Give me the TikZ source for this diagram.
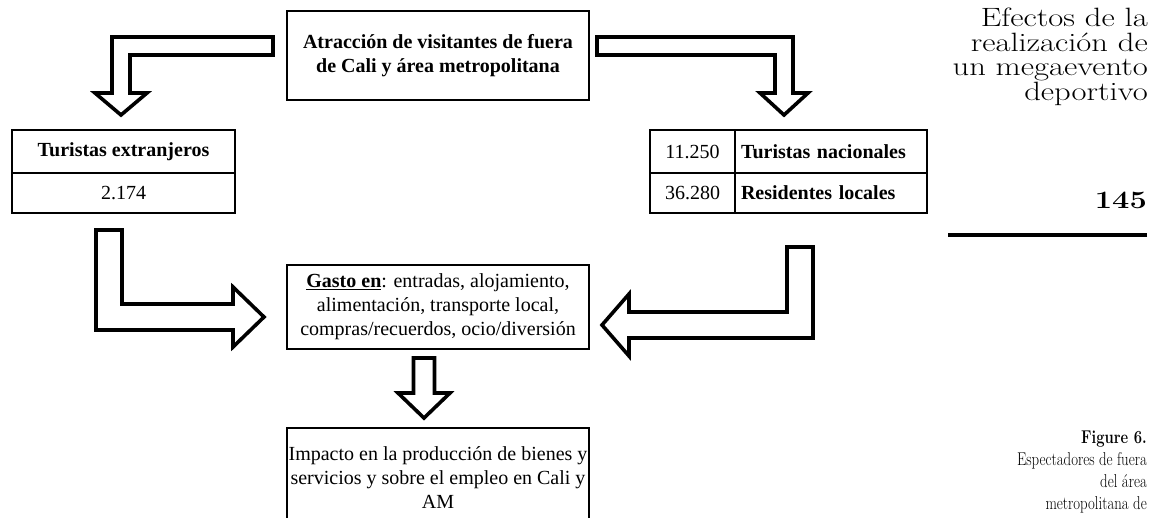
\documentclass[tikz,border=0pt]{standalone}
\usepackage{fontspec}
\newfontfamily\boxfont{Liberation Serif}
\newfontfamily\sidefont[FakeStretch=1.23]{Latin Modern Roman}
\newfontfamily\capfont[FakeStretch=0.8]{Latin Modern Roman}
\usetikzlibrary{positioning,calc}

\tikzset{
  box/.style={draw, line width=2.8pt, outer sep=0pt, inner sep=2pt, align=center,
    font=\boxfont\fontsize{20}{24}\selectfont},
  boldbox/.style={box, font=\boxfont\bfseries\fontsize{20}{24}\selectfont},
  blockarrow/.style={draw, line width=3.6pt, fill=white, line join=miter},
}

% horizontal shaft, then down to the tip: start, tip, half shaft, half head, head length
\newcommand{\hdarrow}[5]{%
  \draw[blockarrow] let \p1=(#1), \p2=(#2), \n1={sign(\x1-\x2)} in
    (\x1,{\y1+#3}) -- ({\x2-\n1*#3},{\y1+#3}) -- ({\x2-\n1*#3},{\y2+#5})
    -- ({\x2-\n1*#4},{\y2+#5}) -- (\x2,\y2) -- ({\x2+\n1*#4},{\y2+#5})
    -- ({\x2+\n1*#3},{\y2+#5}) -- ({\x2+\n1*#3},{\y1-#3}) -- (\x1,{\y1-#3}) -- cycle;
}
% down first, then horizontal to the tip
\newcommand{\vharrow}[5]{%
  \draw[blockarrow] let \p1=(#1), \p2=(#2), \n1={sign(\x2-\x1)} in
    ({\x1-\n1*#3},\y1) -- ({\x1-\n1*#3},{\y2-#3}) -- ({\x2-\n1*#5},{\y2-#3})
    -- ({\x2-\n1*#5},{\y2-#4}) -- (\x2,\y2) -- ({\x2-\n1*#5},{\y2+#4})
    -- ({\x2-\n1*#5},{\y2+#3}) -- ({\x1+\n1*#3},{\y2+#3}) -- ({\x1+\n1*#3},\y1) -- cycle;
}
% straight down
\newcommand{\dnarrow}[5]{%
  \draw[blockarrow] let \p1=(#1), \p2=(#2) in
    ({\x1-#3},\y1) -- ({\x1-#3},{\y2+#5}) -- ({\x1-#4},{\y2+#5}) -- (\x2,\y2)
    -- ({\x1+#4},{\y2+#5}) -- ({\x1+#3},{\y2+#5}) -- ({\x1+#3},\y1) -- cycle;
}

\begin{document}
\begin{tikzpicture}[x=1pt, y=-1pt]
  \useasboundingbox (0,0) rectangle (1155,518);

  % Boxes
  \node[boldbox, minimum width=302pt, minimum height=89pt] (atr) at (438,55.5)
    {Atracción de visitantes de fuera\\de Cali y área metropolitana};

  \node[boldbox, minimum width=223pt, minimum height=43pt] (ext) at (123.5,151.5)
    {Turistas extranjeros};
  \node[box, minimum width=223pt, minimum height=40pt, below=0pt of ext] (extnum) {2.174};

  \node[box, minimum width=85pt, minimum height=43pt] (nacnum) at (692.5,151.5) {11.250};
  \node[boldbox, minimum width=192pt, minimum height=43pt, text width=180pt, align=left,
    right=0pt of nacnum] (naclab) {Turistas nacionales};
  \node[box, minimum width=85pt, minimum height=40pt, below=0pt of nacnum] (resnum) {36.280};
  \node[boldbox, minimum width=192pt, minimum height=40pt, text width=180pt, align=left,
    below=0pt of naclab] (reslab) {Residentes locales};

  \node[box, minimum width=302pt, minimum height=84pt] (gasto) at (438,307)
    {\underline{\textbf{Gasto en}}: entradas, alojamiento,\\alimentación, transporte local,\\compras/recuerdos, ocio/diversión};

  \node[box, inner xsep=0pt, minimum width=302pt, minimum height=100pt] (imp) at (438,478)
    {Impacto en la producción de bienes y\\servicios y sobre el empleo en Cali y\\AM};

  % Block arrows
  \hdarrow{$(atr.west)+(-14,-9.5)$}{$(ext.north)+(-2.5,-15)$}{9pt}{26pt}{22pt}
  \hdarrow{$(atr.east)+(8,-9.5)$}{$(naclab.north west)+(49,-15)$}{9pt}{24pt}{22pt}
  \vharrow{$(extnum.south)+(-14.5,17)$}{$(gasto.west)+(-23,10)$}{13pt}{30pt}{31pt}
  \vharrow{$(reslab.south west)+(65,34)$}{$(gasto.east)+(13,18)$}{13pt}{31pt}{27pt}
  \dnarrow{$(gasto.south)+(-14,9)$}{$(imp.north)+(-14,-10)$}{10.5pt}{26pt}{25pt}

  % Page margin
  \node[anchor=north east, inner sep=0pt, align=right,
    font=\sidefont\fontsize{26.5}{24.5}\selectfont] (eff) at (1148,8)
    {Efectos de la\\realización de\\un megaevento\\deportivo};
  \node[anchor=base east, inner sep=0pt, font=\sidefont\bfseries\fontsize{25}{25}\selectfont]
    (pag) at (1147,209) {145};
  \draw[line width=4.5pt] ($(pag.base east)+(0,26)$) -- ++(-199,0);
  \node[anchor=north east, inner sep=0pt, align=right,
    font=\capfont\fontsize{18.5}{22}\selectfont] (fig) at (1147,431)
    {\textbf{Figure 6.}\\Espectadores de fuera\\del área\\metropolitana de};
\end{tikzpicture}
\end{document}
